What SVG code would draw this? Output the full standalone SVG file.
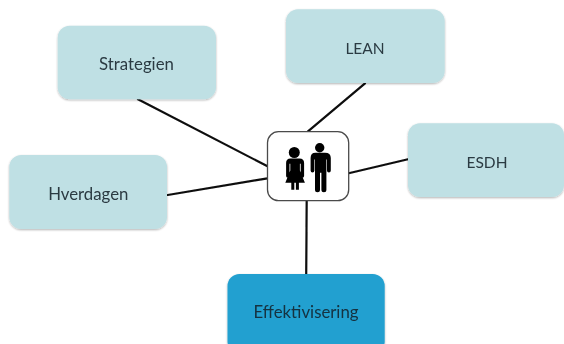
<svg xmlns="http://www.w3.org/2000/svg" width="564" height="344" viewBox="0 0 564 344">
<style>
.box{fill:#bfe0e4}
.lbl{font-family:"Lato","Open Sans",sans-serif;font-size:16.8px;fill:#2b3a42;text-anchor:middle}
.caps{font-size:15.5px}
.conn line{stroke:#0c0c0c;stroke-width:2.2;stroke-linecap:round}
.fig{fill:#000}
</style>
<defs>
<filter id="soft" x="-10%" y="-10%" width="120%" height="125%">
<feGaussianBlur in="SourceAlpha" stdDeviation="1.2"/>
<feOffset dy="1.2"/>
<feComponentTransfer><feFuncA type="linear" slope="0.3"/></feComponentTransfer>
<feMerge result="m"><feMergeNode/><feMergeNode in="SourceGraphic"/></feMerge>
<feGaussianBlur in="m" stdDeviation="0.35"/>
</filter>
<filter id="blur" x="-5%" y="-5%" width="110%" height="110%"><feGaussianBlur stdDeviation="0.4"/></filter>
</defs>
<rect width="564" height="344" fill="#fff"/>
<g id="connectors" class="conn" filter="url(#blur)">
<line x1="138" y1="99.3" x2="267.5" y2="166.3"/>
<line x1="167.7" y1="195" x2="267.5" y2="178.3"/>
<line x1="365" y1="83.3" x2="307.7" y2="131.7"/>
<line x1="408" y1="159.3" x2="348.7" y2="173.3"/>
<line x1="306.7" y1="200.7" x2="306.2" y2="274"/>
</g>
<g id="strategien" filter="url(#soft)"><rect class="box" x="57.7" y="25.7" width="158.3" height="73.6" rx="12"/><text class="lbl" x="136.5" y="70">Strategien</text></g>
<g id="hverdagen" filter="url(#soft)"><rect class="box" x="9.3" y="155" width="157.7" height="74" rx="12"/><text class="lbl" x="88.3" y="200">Hverdagen</text></g>
<g id="lean" filter="url(#soft)"><rect class="box" x="286" y="9.3" width="158.7" height="73.7" rx="12"/><text class="lbl caps" x="365" y="54">LEAN</text></g>
<g id="esdh" filter="url(#soft)"><rect class="box" x="408" y="123.3" width="156" height="73.7" rx="12"/><text class="lbl caps" x="487" y="168">ESDH</text></g>
<g id="effektivisering" filter="url(#soft)"><rect x="227.5" y="274" width="157.2" height="80" rx="12" fill="#21a0d0"/><text class="lbl" x="306" y="318" style="fill:#15303f">Effektivisering</text></g>
<g id="people">
<rect x="267.5" y="131.7" width="81.2" height="69" rx="11" fill="#fff" stroke="#4a4a4a" stroke-width="1.3"/>
<g class="fig" filter="url(#blur)">
<circle cx="294.3" cy="152.5" r="5.5"/>
<path d="M289.5 158.4h10q4.6 0 4.6 4.6v13a1.7 1.7 0 0 1-3.4 0v-12.2h-.8v6.6l5 12.3h-6v7h-3v-7h-1.6v7h-3v-7h-6l5-12.3v-6.6h-.8v12.2a1.7 1.7 0 0 1-3.4 0v-13q0-4.6 4.4-4.6z"/>
<circle cx="319.7" cy="147.8" r="4.7"/>
<path d="M314.5 152.8h10.5q5.8 0 5.8 5.2v12.5a1.9 1.9 0 0 1-3.8 0v-11h-.6v30.2a2.5 2.5 0 0 1-5 0v-17h-1.4v17a2.5 2.5 0 0 1-5 0v-30.2h-.6v11a1.9 1.9 0 0 1-3.8 0v-12.5q0-5.2 4.9-5.2z"/>
</g>
</g>
</svg>
